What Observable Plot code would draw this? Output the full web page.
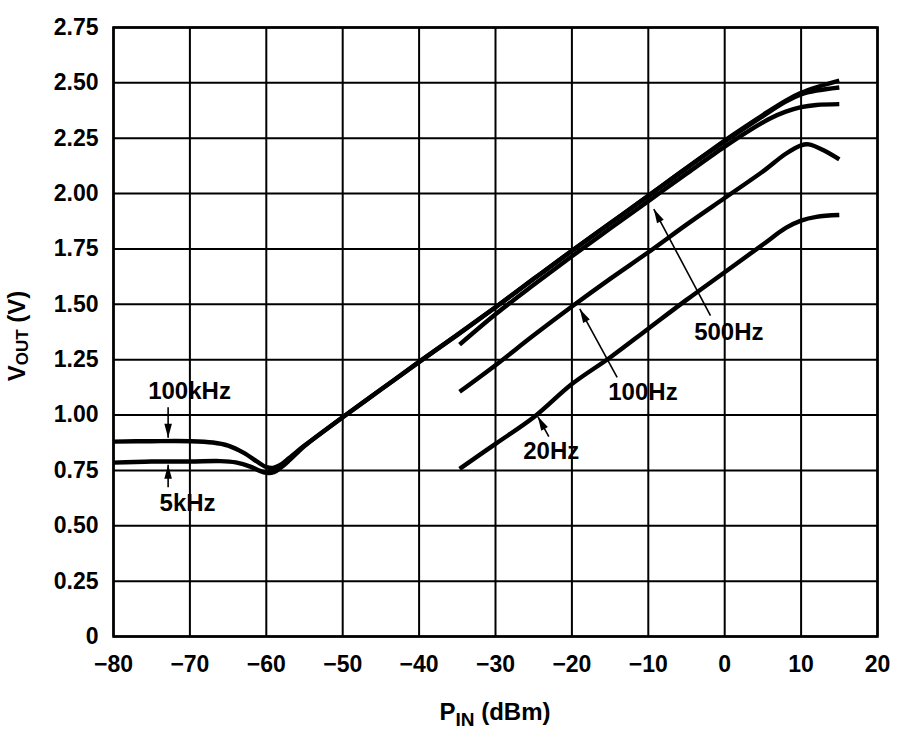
<!DOCTYPE html>
<html><head><meta charset="utf-8">
<script src="https://cdn.jsdelivr.net/npm/d3@7"></script>
<script src="https://cdn.jsdelivr.net/npm/@observablehq/plot@0.6"></script>
<style>
body{margin:0;background:#fff;}
#chart svg{display:block;}
</style>
</head><body><div id="chart"></div>
<script>
// ---- data ----
const xTicks = [-80,-70,-60,-50,-40,-30,-20,-10,0,10,20];
const yTicks = [0,0.25,0.5,0.75,1,1.25,1.5,1.75,2,2.25,2.5,2.75];

const pin100k = [-80,-75,-70,-67,-65,-63,-61,-60,-59,-58,-57,-56,-55,-50,-45,-40,-35,-30,-25,-20,-15,-10,-5,0,5,8,10,12,15];
const vout100k = [0.88,0.882,0.882,0.876,0.862,0.83,0.785,0.765,0.762,0.778,0.806,0.835,0.862,0.99,1.115,1.24,1.362,1.487,1.615,1.742,1.866,1.99,2.115,2.24,2.355,2.42,2.455,2.48,2.51];

const pin5k = [-80,-75,-70,-66,-64,-62,-61,-60,-59,-58,-57,-56,-55,-50,-45,-40,-35,-30,-25,-20,-15,-10,-5,0,5,8,10,12,15];
const vout5k = [0.785,0.79,0.79,0.792,0.786,0.766,0.75,0.739,0.742,0.765,0.795,0.828,0.86,0.99,1.115,1.24,1.362,1.487,1.615,1.742,1.866,1.99,2.115,2.235,2.35,2.415,2.448,2.465,2.479];

const pin500 = [-34.7,-30,-25,-20,-15,-10,-5,0,3,6,8,10,12,15];
const vout500 = [1.318,1.455,1.588,1.717,1.842,1.966,2.09,2.212,2.28,2.34,2.37,2.39,2.4,2.404];

const pin100 = [-34.7,-30,-25,-20,-15,-10,-5,0,5,8,10,11,13,15];
const vout100 = [1.105,1.225,1.36,1.49,1.615,1.735,1.86,1.98,2.1,2.18,2.218,2.222,2.195,2.155];

const pin20 = [-34.7,-30,-25,-20,-15,-10,-5,0,5,8,10,12,15];
const vout20 = [0.757,0.87,0.99,1.14,1.26,1.39,1.52,1.645,1.77,1.845,1.878,1.895,1.903];

// annotation labels and arrows
const labelText = ["100kHz","5kHz","500Hz","100Hz","20Hz"];
const labelX = [-70.05,-70.3,0.54,-10.7,-22.7];
const labelY = [1.106,0.600,1.373,1.102,0.836];
const arrowX1 = [-72.85,-72.85,-1.86,-14.08,-23.02];
const arrowY1 = [1.035,0.674,1.449,1.170,0.9025];
const arrowX2 = [-72.85,-72.85,-9.28,-18.97,-24.46];
const arrowY2 = [0.897,0.776,1.930,1.479,0.993];

// ---- build tables ----
const series = [
  ["100kHz", pin100k, vout100k],
  ["5kHz", pin5k, vout5k],
  ["500Hz", pin500, vout500],
  ["100Hz", pin100, vout100],
  ["20Hz", pin20, vout20]
];
const rows = series.flatMap(([name, xs, ys]) => xs.map((x, i) => ({name, x, y: ys[i]})));
const labels = labelText.map((t, i) => ({t, x: labelX[i], y: labelY[i]}));

const W = 900, H = 741, ML = 113, MR = 23, MT = 27, MB = 105;
const xs = Plot.scale({x: {domain: [-80, 20], range: [ML, W - MR]}});
const ys = Plot.scale({y: {domain: [0, 2.75], range: [H - MB, MT]}});
const arrows = labelText.map((t, i) => {
  const dx = xs.apply(arrowX2[i]) - xs.apply(arrowX1[i]);
  const dy = ys.apply(arrowY2[i]) - ys.apply(arrowY1[i]);
  return {x1: arrowX1[i], y1: arrowY1[i], x2: arrowX2[i], y2: arrowY2[i],
          rot: Math.atan2(dx, -dy) * 180 / Math.PI};
});

// narrow filled arrowhead with its tip at the origin, pointing up
const arrowHead = {
  draw(context) {
    context.moveTo(0, 0);
    context.lineTo(-3.8, 14);
    context.lineTo(3.8, 14);
    context.closePath();
  }
};

const font = "'Liberation Sans', Arial, Helvetica, sans-serif";

const chart = Plot.plot({
  width: W, height: H,
  marginLeft: ML, marginRight: MR, marginTop: MT, marginBottom: MB,
  style: {fontFamily: font, fontWeight: "bold", fontSize: "23px", color: "#000", background: "#fff"},
  x: {domain: [-80, 20], ticks: xTicks},
  y: {domain: [0, 2.75], ticks: yTicks},
  marks: [
    Plot.gridX(xTicks, {stroke: "#000", strokeOpacity: 1, strokeWidth: 2}),
    Plot.gridY(yTicks, {stroke: "#000", strokeOpacity: 1, strokeWidth: 2}),
    Plot.frame({stroke: "#000", strokeWidth: 2.6}),
    Plot.axisX(xTicks, {tickSize: 0, tickPadding: 19, label: null, fontSize: 23, fontWeight: "bold"}),
    Plot.axisY(yTicks, {tickSize: 0, tickPadding: 15, label: null, fontSize: 23, fontWeight: "bold",
      tickFormat: d => d === 0 ? "0" : d3.format(".2f")(d)}),
    Plot.line(rows, {x: "x", y: "y", z: "name", stroke: "#000", strokeWidth: 4.4, curve: "catmull-rom", strokeLinecap: "butt"}),
    Plot.link(arrows, {x1: "x1", y1: "y1", x2: "x2", y2: "y2", stroke: "#000", strokeWidth: 1.6}),
    Plot.dot(arrows, {x: "x2", y: "y2", rotate: "rot", symbol: arrowHead, fill: "#000", stroke: "none", r: 5}),
    Plot.text(labels, {x: "x", y: "y", text: "t", fontSize: 24, fontWeight: "bold", fill: "#000", textAnchor: "middle"})
  ]
});

const svg = d3.select(chart);
// x-axis title: P_IN (dBm)
const xt = svg.append("text")
  .attr("x", 495).attr("y", 720)
  .attr("text-anchor", "middle")
  .attr("font-family", font).attr("font-weight", "bold").attr("font-size", 24).attr("fill", "#000");
xt.append("tspan").text("P");
xt.append("tspan").attr("font-size", 19).attr("dy", 6).text("IN");
xt.append("tspan").attr("dy", -6).text(" (dBm)");
// y-axis title: V_OUT (V)
const yt = svg.append("text")
  .attr("transform", "translate(25,336) rotate(-90)")
  .attr("text-anchor", "middle")
  .attr("font-family", font).attr("font-weight", "bold").attr("font-size", 24).attr("fill", "#000");
yt.append("tspan").text("V");
yt.append("tspan").attr("font-size", 17).attr("dy", 3).text("OUT");
yt.append("tspan").attr("dy", -3).text(" (V)");

document.getElementById("chart").appendChild(chart);
</script>
</body></html>
